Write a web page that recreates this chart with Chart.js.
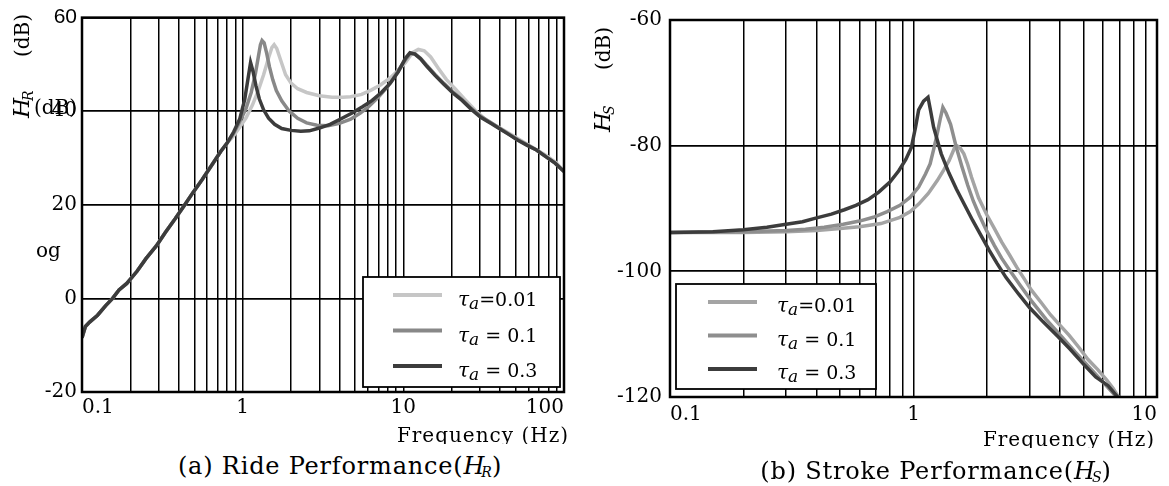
<!DOCTYPE html>
<html>
<head>
<meta charset="utf-8">
<script src="https://cdn.jsdelivr.net/npm/chart.js@4.4.1/dist/chart.umd.min.js"></script>
<style>
  html, body { margin: 0; padding: 0; background: #fff; }
  body { width: 1169px; height: 486px; position: relative; overflow: hidden; font-family: 'DejaVu Serif', serif; color: #000; }
  #ride { position: absolute; left: 0; top: 0; }
  #stroke { position: absolute; left: 580px; top: 0; }
  .caption { position: absolute; font-size: 24px; line-height: 24px; letter-spacing: 0.8px; white-space: nowrap; transform: translateX(-50%); }
  .caption i { letter-spacing: 0; }
  .caption sub { font-size: 14px; vertical-align: -3px; margin-left: -3px; letter-spacing: 0; }
</style>
</head>
<body>
<canvas id="ride" width="580" height="450"></canvas>
<canvas id="stroke" width="589" height="460"></canvas>
<div class="caption" style="left:340px; top:454px;">(a) Ride Performance(<i>H<sub>R</sub></i>)</div>
<div class="caption" style="left:936px; top:459px;">(b) Stroke Performance(<i>H<sub>S</sub></i>)</div>
<script>
// legend labels, in dataset order
const tauLabels = ['τa=0.01', 'τa = 0.1', 'τa = 0.3'];

// tick labels
const rideXTicks = [0.1, 1, 10, 100];
const rideYTicks = [-20, 0, 20, 40, 60];
const strokeXTicks = [0.1, 1, 10];
const strokeYTicks = [-120, -100, -80, -60];

// ride performance H_R (dB) — shared rising part below 0.8 Hz
const rideLowFreq = [0.1, 0.105, 0.112, 0.125, 0.14, 0.155, 0.17, 0.19, 0.22, 0.25, 0.29, 0.33, 0.38, 0.43, 0.49, 0.56, 0.64, 0.73, 0.8];
const rideLowDb = [-8.4, -6.0, -5.0, -3.6, -1.6, 0.0, 1.8, 3.2, 5.8, 8.5, 11.2, 14.1, 17.0, 19.7, 22.6, 25.4, 28.4, 31.4, 33.2];

const rideFreq001 = [0.88, 0.96, 1.05, 1.15, 1.25, 1.35, 1.45, 1.52, 1.57, 1.63, 1.72, 1.85, 2.0, 2.2, 2.5, 3.0, 3.6, 4.2, 4.7, 5.5, 6.3, 7.2, 8.2, 9.2,
  10.3, 11.4, 12.4, 13.5, 14.8, 16.5, 18.5, 21, 24, 28, 33, 39, 46, 55, 65, 77, 90, 100];
const rideDb001 = [34.8, 36.6, 38.6, 41.3, 44.4, 47.8, 51.4, 53.6, 54.2, 53.4, 51.0, 47.8, 46.0, 44.8, 44.0, 43.3, 43.0, 43.0, 43.1, 43.6, 44.5, 45.6, 47.0, 48.6,
  50.4, 52.5, 53.2, 52.9, 51.6, 49.2, 46.8, 44.8, 42.6, 40.2, 38.0, 36.6, 35.2, 33.6, 32.1, 30.6, 28.9, 27.1];

const rideFreq01 = [0.88, 0.96, 1.05, 1.13, 1.2, 1.25, 1.29, 1.32, 1.36, 1.41, 1.47, 1.54, 1.62, 1.75, 1.95, 2.2, 2.5, 2.9, 3.4, 4.0, 4.7, 5.4, 6.1, 7.0, 8.0, 9.0,
  10.1, 11.0, 11.8, 12.8, 14.0, 15.8, 17.8, 20.5, 23.2, 26.5, 30.3, 35, 39.5, 45, 51.6, 59, 67.4, 77, 88, 100];
const rideDb01 = [35.3, 37.8, 40.6, 44.0, 48.0, 51.5, 54.2, 55.1, 54.6, 52.4, 49.4, 46.7, 44.4, 42.2, 40.0, 38.5, 37.5, 37.0, 36.9, 37.4, 38.3, 39.6, 41.0, 43.0, 45.3, 47.9,
  50.6, 52.3, 52.3, 51.3, 49.8, 47.8, 46.0, 44.0, 42.5, 40.6, 38.9, 37.6, 36.4, 35.2, 33.9, 32.8, 31.7, 30.3, 28.9, 27.1];

const rideFreq03 = [0.88, 0.96, 1.03, 1.08, 1.12, 1.16, 1.21, 1.27, 1.35, 1.45, 1.58, 1.75, 2.0, 2.3, 2.6, 3.0, 3.5, 4.1, 4.8, 5.6, 6.4, 7.3, 8.3, 9.3,
  10.3, 11.0, 11.8, 12.8, 14.0, 15.8, 17.8, 20.5, 23.2, 26.5, 30.3, 35, 39.5, 45, 51.6, 59, 67.4, 77, 88, 100];
const rideDb03 = [35.6, 38.4, 42.5, 47.0, 50.4, 48.5, 45.4, 42.6, 40.3, 38.5, 37.2, 36.3, 35.9, 35.7, 35.8, 36.4, 37.2, 38.4, 39.6, 41.0, 42.3, 44.0, 46.0, 48.4,
  51.3, 52.5, 52.2, 51.2, 49.6, 47.6, 45.8, 43.8, 42.3, 40.4, 38.7, 37.4, 36.3, 35.1, 33.8, 32.7, 31.7, 30.3, 28.9, 27.1];

// stroke performance H_S (dB)
const strokeFreq001 = [0.1, 0.2, 0.3, 0.4, 0.5, 0.6, 0.735, 0.88, 0.97, 1.05, 1.15, 1.25, 1.33, 1.4, 1.45, 1.49, 1.55, 1.61, 1.67, 1.73, 1.85, 2.0,
  2.15, 2.3, 2.48, 2.65, 2.85, 3.05, 3.35, 3.65, 4.0, 4.36, 4.8, 5.2, 5.7, 6.22, 6.6, 7.0];
const strokeDb001 = [-93.8, -93.8, -93.7, -93.5, -93.2, -92.9, -92.4, -91.4, -90.5, -89.3, -87.6, -85.6, -83.9, -82.4, -81.0, -79.9, -80.3, -81.3, -83.0, -85.0, -88.3, -91.0,
  -93.2, -95.3, -97.4, -99.3, -101.2, -103.0, -105.0, -106.9, -108.6, -110.2, -112.2, -114.0, -115.6, -117.3, -118.6, -120.2];

const strokeFreq01 = [0.1, 0.2, 0.3, 0.36, 0.43, 0.515, 0.6, 0.684, 0.78, 0.88, 0.97, 1.05, 1.12, 1.17, 1.21, 1.25, 1.29, 1.32, 1.36, 1.42, 1.5, 1.58, 1.67,
  1.76, 1.86, 2.0, 2.15, 2.3, 2.5, 2.75, 3.05, 3.5, 4.06, 4.6, 5.2, 5.8, 6.4, 7.0];
const strokeDb01 = [-93.8, -93.7, -93.5, -93.3, -93.0, -92.5, -92.0, -91.4, -90.5, -89.5, -88.2, -86.6, -84.5, -82.9, -80.6, -78.2, -75.6, -73.9, -74.8, -76.6, -80.3, -83.3, -86.3,
  -88.8, -91.0, -93.6, -95.9, -97.9, -100.0, -102.3, -104.7, -107.6, -110.4, -112.8, -115.0, -117.0, -118.8, -120.5];

const strokeFreq03 = [0.1, 0.15, 0.2, 0.25, 0.3, 0.35, 0.4, 0.46, 0.52, 0.58, 0.65, 0.72, 0.8, 0.87, 0.93, 0.98, 1.02, 1.05, 1.1, 1.147, 1.18, 1.21, 1.3, 1.4, 1.5,
  1.62, 1.75, 1.9, 2.05, 2.2, 2.4, 2.7, 3.0, 3.4, 3.9, 4.4, 5.0, 5.6, 6.3, 7.0];
const strokeDb03 = [-93.8, -93.7, -93.4, -93.0, -92.5, -92.1, -91.5, -90.9, -90.2, -89.5, -88.6, -87.4, -85.8, -84.0, -82.2, -80.3, -77.0, -74.3, -72.9, -72.3, -74.8, -77.1, -81.3, -84.4, -86.9,
  -89.4, -91.9, -94.4, -96.7, -98.7, -101.0, -103.6, -105.8, -108.0, -110.3, -112.4, -114.8, -116.8, -118.2, -120.3];

const rideColors = ['#c6c6c6', '#888888', '#3c3c3c'];
const strokeColors = ['#a4a4a4', '#8e8e8e', '#3c3c3c'];

const serif = '"DejaVu Serif", serif';
const tickFont = { family: serif, size: 20 };

function points(freqs, dbs) {
  return freqs.map((f, i) => ({ x: f, y: dbs[i] }));
}

// 1..9 x 10^n grid positions between two decades
function logGrid(min, max) {
  const vals = [];
  for (let e = Math.round(Math.log10(min)); e < Math.round(Math.log10(max)); e++) {
    for (let k = 1; k <= 9; k++) vals.push(Number((k * Math.pow(10, e)).toPrecision(3)));
  }
  vals.push(max);
  return vals;
}

function tauText(ctx, label, x, y) {
  ctx.fillStyle = '#000';
  ctx.textAlign = 'left';
  ctx.textBaseline = 'alphabetic';
  ctx.font = 'italic 20px ' + serif;
  ctx.fillText(label[0], x, y);
  x += ctx.measureText(label[0]).width;
  ctx.font = 'italic 17px ' + serif;
  ctx.fillText(label[1], x, y + 3);
  x += ctx.measureText(label[1]).width;
  ctx.font = '19px ' + serif;
  ctx.fillText(label.slice(2), x, y);
}

const decor = {
  id: 'decor',
  afterDraw(chart, args, o) {
    const ctx = chart.ctx;
    const a = chart.chartArea;
    ctx.save();

    // plot frame
    ctx.strokeStyle = '#000';
    ctx.lineWidth = 2.5;
    ctx.strokeRect(a.left, a.top, a.right - a.left, a.bottom - a.top);

    // legend box
    const b = o.box;
    ctx.fillStyle = '#fff';
    ctx.fillRect(b.x, b.y, b.w, b.h);
    ctx.lineWidth = 1.8;
    ctx.strokeRect(b.x, b.y, b.w, b.h);
    chart.data.datasets.forEach((ds, i) => {
      const y = b.y + b.rowTop + i * b.rowGap;
      ctx.strokeStyle = ds.borderColor;
      ctx.lineWidth = 4;
      ctx.beginPath();
      ctx.moveTo(b.x + b.lineX, y);
      ctx.lineTo(b.x + b.lineX + 49, y);
      ctx.stroke();
      tauText(ctx, ds.label, b.x + b.textX, y + b.textDy);
    });

    // rotated y title
    ctx.fillStyle = '#000';
    ctx.textAlign = 'left';
    ctx.textBaseline = 'alphabetic';
    ctx.save();
    ctx.translate(o.yTitle.x, o.yTitle.hy);
    ctx.rotate(-Math.PI / 2);
    ctx.font = 'italic 23px ' + serif;
    ctx.fillText('H', 0, 0);
    const hw = ctx.measureText('H').width;
    ctx.font = 'italic 14px ' + serif;
    ctx.fillText(o.yTitle.sub, hw - 3, 4);
    ctx.restore();
    ctx.save();
    ctx.translate(o.yTitle.x, o.yTitle.dby);
    ctx.rotate(-Math.PI / 2);
    ctx.font = '20px ' + serif;
    ctx.fillText('(dB)', 0, 0);
    ctx.restore();

    // x title, bottom edge trimmed
    ctx.save();
    ctx.beginPath();
    ctx.rect(0, 0, chart.width, o.xTitle.clip);
    ctx.clip();
    ctx.font = '20px ' + serif;
    ctx.letterSpacing = '1px';
    ctx.textAlign = 'right';
    ctx.fillText('Frequency (Hz)', o.xTitle.x, o.xTitle.y);
    ctx.restore();

    // loose text left on the axis
    (o.extra || []).forEach(t => {
      ctx.font = '20px ' + serif;
      ctx.textAlign = t.align;
      ctx.fillText(t.text, t.x, t.y);
    });
    ctx.restore();
  }
};

function makeChart(id, cfg) {
  const datasets = cfg.series.map((s, i) => ({
    label: tauLabels[i],
    data: points(s[0], s[1]),
    borderColor: cfg.colors[i],
    borderWidth: 3.5,
    pointRadius: 0,
    tension: 0,
    fill: false,
    order: 2 - i
  }));
  const gridX = logGrid(cfg.xMin, cfg.xMax);
  return new Chart(document.getElementById(id), {
    type: 'line',
    data: { datasets },
    plugins: [decor],
    options: {
      responsive: false,
      animation: false,
      events: [],
      layout: { padding: cfg.padding },
      plugins: {
        legend: { display: false },
        tooltip: { enabled: false },
        decor: cfg.decor
      },
      scales: {
        x: {
          type: 'logarithmic',
          min: cfg.xMin,
          max: cfg.xMax,
          afterBuildTicks: s => { s.ticks = gridX.map(v => ({ value: v })); },
          afterFit: s => { s.height = 30; },
          border: { display: false },
          grid: { color: '#000', lineWidth: 1.5, drawTicks: false },
          ticks: {
            autoSkip: false, maxRotation: 0, align: 'inner', padding: cfg.xPad,
            color: '#000', font: tickFont,
            callback: v => cfg.xTicks.includes(v) ? String(v) : ''
          }
        },
        y: {
          type: 'linear',
          min: cfg.yTicks[0],
          max: cfg.yTicks[cfg.yTicks.length - 1],
          afterBuildTicks: s => { s.ticks = cfg.yTicks.map(v => ({ value: v })); },
          afterFit: s => { s.width = cfg.yWidth; },
          border: { display: false },
          grid: { color: '#000', lineWidth: 1.8, drawTicks: false },
          ticks: {
            padding: cfg.yPad, color: '#000',
            font: c => (c.tick && c.tick.value === 60) ? { family: '"Liberation Sans", sans-serif', size: 21 } : tickFont
          }
        }
      }
    }
  });
}

makeChart('ride', {
  series: [
    [rideLowFreq.concat(rideFreq001), rideLowDb.concat(rideDb001)],
    [rideLowFreq.concat(rideFreq01), rideLowDb.concat(rideDb01)],
    [rideLowFreq.concat(rideFreq03), rideLowDb.concat(rideDb03)]
  ],
  colors: rideColors,
  xMin: 0.1, xMax: 100, xTicks: rideXTicks, yTicks: rideYTicks,
  padding: { top: 13, right: 16, bottom: 28, left: 0 },
  yWidth: 82, yPad: 5, xPad: 4,
  decor: {
    box: { x: 363, y: 277, w: 197, h: 110, lineX: 30, textX: 95, rowTop: 18, rowGap: 35.5, textDy: 11 },
    yTitle: { x: 29, hy: 118, dby: 57, sub: 'R' },
    xTitle: { x: 569, y: 442, clip: 444 },
    extra: [
      { text: '(dB)', x: 77, y: 114, align: 'right' },
      { text: 'og', x: 36, y: 257, align: 'left' }
    ]
  }
});

makeChart('stroke', {
  series: [
    [strokeFreq001, strokeDb001],
    [strokeFreq01, strokeDb01],
    [strokeFreq03, strokeDb03]
  ],
  colors: strokeColors,
  xMin: 0.1, xMax: 10, xTicks: strokeXTicks, yTicks: strokeYTicks,
  padding: { top: 18, right: 12, bottom: 33, left: 0 },
  yWidth: 90, yPad: 8, xPad: 6,
  decor: {
    box: { x: 96, y: 284, w: 200, h: 105, lineX: 32, textX: 101, rowTop: 18, rowGap: 33.5, textDy: 10 },
    yTitle: { x: 30, hy: 132, dby: 70, sub: 'S' },
    xTitle: { x: 575, y: 446, clip: 448 }
  }
});
</script>
</body>
</html>
